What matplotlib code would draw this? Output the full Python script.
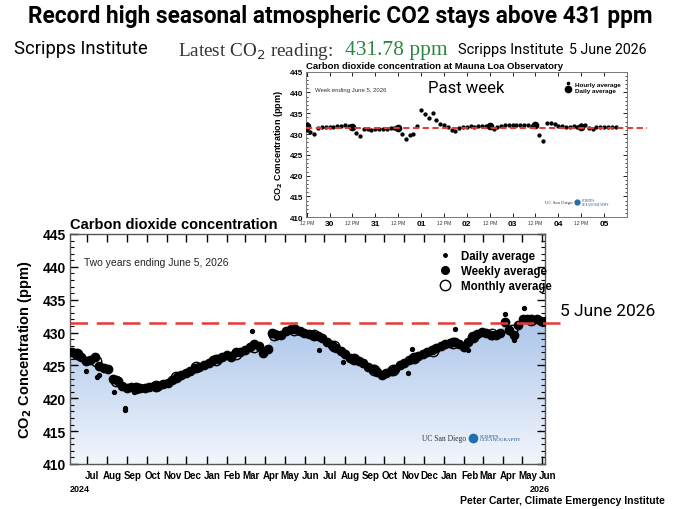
import matplotlib
matplotlib.use('Agg')
import matplotlib.pyplot as plt
import numpy as np
import pandas as pd
import matplotlib.dates as mdates
import matplotlib.transforms as mtransforms
from matplotlib.lines import Line2D
from matplotlib.colors import LinearSegmentedColormap

# ---------------- data: two-year chart ----------------
weekly_start = '2024-06-08'
weekly_ppm = [
    427.0, 426.8, 426.3, 425.6, 425.9, 426.3, 424.9, 424.6, 424.4, 423.0,
    422.6, 421.9, 421.6, 421.7, 421.5, 421.6, 421.5, 421.7, 421.9, 421.8,
    422.2, 422.4, 422.8, 423.2, 423.5, 423.9, 424.1, 424.6, 424.8, 425.1,
    425.4, 425.8, 426.0, 426.3, 426.6, 426.3, 427.0, 427.1, 427.3, 427.8,
    428.3, 428.0, 426.9, 427.5, 430.0, 429.7, 429.6, 430.3, 430.6, 430.5,
    430.3, 430.0, 429.8, 429.6, 429.5, 429.1, 428.6, 428.1, 427.7, 427.2,
    426.7, 426.2, 426.0, 425.6, 425.3, 424.8, 424.4, 424.0, 423.6, 423.8,
    424.2, 424.5, 425.0, 425.4, 425.8, 426.2, 426.5, 426.8, 427.0, 427.4,
    427.7, 428.0, 428.3, 428.4, 428.6, 428.2, 427.8, 428.6, 429.4, 429.8,
    430.1, 430.0, 429.6, 429.7, 430.0, 431.6, 430.4, 429.6, 431.2, 432.0,
    432.1, 431.9, 432.0, 431.8, 431.7]
monthly_start = '2024-06-01'
monthly_ppm = [
    426.8, 425.6, 422.6, 421.6, 421.9, 423.3, 424.7, 425.9, 426.8, 427.8,
    429.6, 430.4, 429.6, 428.0, 426.0, 424.3, 424.3, 426.2, 427.2, 428.4,
    429.3, 429.8, 430.4, 431.9]
daily_dates = ['2024-06-30', '2024-07-16', '2024-07-19', '2024-08-11', '2024-08-28',
               '2024-08-29', '2024-09-11', '2025-03-11', '2025-06-22', '2025-07-30',
               '2025-11-07', '2025-11-12', '2026-01-17', '2026-02-07', '2026-04-04',
               '2026-04-19', '2026-05-04']
daily_ppm = [424.2, 423.3, 423.6, 421.0, 418.2, 418.5, 420.9, 430.2, 427.4, 425.5,
             423.9, 427.5, 430.5, 427.3, 432.9, 428.9, 433.7]
latest_level = 431.4

# ---------------- data: past week inset ----------------
hourly_start = '2026-05-29 12:00'
hourly_ppm = [
    431.0, 430.4, 430.0, 431.5, 431.6, 431.6, 431.7, 431.8, 431.9, 432.0,
    432.1, 431.9, 431.7, 430.2, 429.5, 431.3, 431.2, 431.1, 431.2, 431.2,
    431.3, 431.3, 431.4, 431.5, 431.3, 430.0, 428.8, 429.8, 430.0, 432.0,
    435.8, 434.9, 433.8, 435.0, 433.3, 432.5, 432.2, 431.8, 430.9, 430.8,
    431.5, 431.7, 431.8, 431.9, 431.8, 431.9, 432.0, 431.9, 431.8, 431.3,
    431.6, 432.0, 432.2, 432.3, 432.2, 432.2, 432.1, 432.2, 432.3, 432.0,
    431.9, 429.8, 428.4, 432.6, 432.7, 432.5, 432.0, 431.9, 431.8, 431.8,
    431.9, 431.8, 432.1, 432.2, 431.4, 431.3, 431.6, 431.6, 431.7, 431.7,
    431.8, 431.7]
daily_avg_times = ['2026-05-29 12:00', '2026-05-30 12:00', '2026-05-31 12:00',
                   '2026-06-02 12:00', '2026-06-03 12:00', '2026-06-04 12:00']
daily_avg_ppm = [432.0, 431.6, 431.4, 432.0, 432.2, 431.8]
inset_day_labels = ['30', '31', '01', '02', '03', '04', '05']

# ---------------- figure ----------------
W, H = 680, 510
fig = plt.figure(figsize=(6.8, 5.1), dpi=100)
sans = 'Liberation Sans'
head = 'Roboto'

def fx(px):
    return px / W

def fy(py):
    return 1 - py / H

fig.text(fx(340), fy(17), 'Record high seasonal atmospheric CO2 stays above 431 ppm',
         ha='center', va='center', fontsize=16.3, fontweight='bold', family=head)
fig.text(fx(14), fy(49), 'Scripps Institute', ha='left', va='center', fontsize=13.3, family=head)
fig.text(fx(178), fy(51), 'Latest CO$_2$ reading:', ha='left', va='center', fontsize=13.8,
         family='Liberation Serif', color='#333333')
fig.text(fx(345), fy(51), '431.78 ppm', ha='left', va='center', fontsize=15.5,
         family='Liberation Serif', color='#2e8540')
fig.text(fx(458), fy(50), 'Scripps Institute', ha='left', va='center', fontsize=10.5, family=head)
fig.text(fx(569), fy(50), '5 June 2026', ha='left', va='center', fontsize=10.2, family=head)

# ---------------- main chart ----------------
ax = fig.add_axes([fx(70), fy(465), fx(545) - fx(70), fy(235) - fy(465)])
wdates = pd.date_range(weekly_start, periods=len(weekly_ppm), freq='7D')
mdates_list = pd.date_range(monthly_start, periods=len(monthly_ppm), freq='MS') + pd.Timedelta(days=14)
ddates = pd.to_datetime(daily_dates)

x0 = pd.Timestamp('2024-06-05')
x1 = pd.Timestamp('2026-06-05')
ax.set_xlim(x0, x1)
ax.set_ylim(410, 445)

wnum = mdates.date2num(wdates)
fill_x = np.concatenate([[mdates.date2num(x0)], wnum])
fill_y = np.concatenate([[weekly_ppm[0]], weekly_ppm])
poly = ax.fill_between(fill_x, fill_y, 410, color='none', lw=0)
cmap = LinearSegmentedColormap.from_list('g', ['#f2f6fc', '#9fbce6'])
grad = np.linspace(0, 1, 256).reshape(-1, 1)
im = ax.imshow(grad, extent=[mdates.date2num(x0), mdates.date2num(x1), 410, 436],
               aspect='auto', cmap=cmap, origin='lower', zorder=1)
im.set_clip_path(poly.get_paths()[0], transform=ax.transData)

ax.plot(wdates, weekly_ppm, 'o', color='black', ms=6.0, zorder=3)
ax.plot(mdates_list, monthly_ppm, 'o', mfc='none', mec='black', ms=7.5, mew=1.0, zorder=4)
ax.plot(ddates, daily_ppm, 'o', color='black', ms=2.8, zorder=3)

blend = mtransforms.blended_transform_factory(ax.transAxes, ax.transData)
ax.plot([0, 1.042], [latest_level, latest_level], transform=blend, clip_on=False,
        color='#e53935', lw=1.8, dashes=(7, 3.5), zorder=5)

ax.xaxis.set_major_locator(mdates.MonthLocator())
ax.xaxis.set_major_formatter(mdates.DateFormatter('%b'))
ax.set_yticks(np.arange(410, 446, 5))
ax.yaxis.set_minor_locator(plt.MultipleLocator(1))
ax.tick_params(axis='both', which='both', direction='in', top=True, right=True)
ax.tick_params(axis='both', which='major', length=6, width=1)
ax.tick_params(axis='y', which='minor', length=3, width=0.8)
ax.tick_params(axis='y', labelsize=10, pad=3)
ax.tick_params(axis='x', labelsize=7, pad=4)
for lab in ax.get_yticklabels():
    lab.set_fontweight('bold'); lab.set_family(sans)
off = mtransforms.ScaledTranslation(4 / 72, 0, fig.dpi_scale_trans)
for lab in ax.get_xticklabels():
    lab.set_fontweight('bold'); lab.set_family(sans)
    lab.set_transform(lab.get_transform() + off)
for sp in ax.spines.values():
    sp.set_color('#555555'); sp.set_linewidth(1)

ax.set_ylabel('CO$_\\mathbf{2}$ Concentration (ppm)', fontsize=10.5, fontweight='bold',
              family=sans, labelpad=6)
ax.text(0, 1.012, 'Carbon dioxide concentration', transform=ax.transAxes, ha='left',
        va='bottom', fontsize=10.5, fontweight='bold', family=sans)
ax.text(0.03, 0.878, 'Two years ending June 5, 2026', transform=ax.transAxes, ha='left',
        va='center', fontsize=7.5, family=sans, color='#222222')
ax.text(0.0, -0.108, '2024', transform=ax.transAxes, ha='left', va='center', fontsize=6.5,
        fontweight='bold', family=sans)
ax.text(0.99, -0.105, '2026', transform=ax.transAxes, ha='center', va='center', fontsize=6.5,
        fontweight='bold', family=sans)

handles = [Line2D([], [], ls='none', marker='o', color='black', ms=2.5),
           Line2D([], [], ls='none', marker='o', color='black', ms=5.5),
           Line2D([], [], ls='none', marker='o', mfc='none', mec='black', ms=7.5)]
leg = ax.legend(handles, ['Daily average', 'Weekly average', 'Monthly average'],
                loc='upper left', bbox_to_anchor=(0.755, 0.975), frameon=False,
                handlelength=1.0, handletextpad=0.9, labelspacing=0.25,
                prop={'family': sans, 'weight': 'bold', 'size': 8.3})

ax.text(0.74, 0.115, 'UC San Diego', transform=ax.transAxes, ha='left', va='center',
        fontsize=5.5, family='Liberation Serif', color='#333333')
ax.plot([0.848], [0.115], 'o', transform=ax.transAxes, color='#1f6fb2', ms=6, clip_on=False)
ax.text(0.862, 0.115, 'SCRIPPS\nOCEANOGRAPHY', transform=ax.transAxes, ha='left', va='center',
        fontsize=3.6, family='Liberation Serif', color='#1f4f86', linespacing=0.9)

fig.text(fx(560), fy(311), '5 June 2026', ha='left', va='center', fontsize=12.5, family=head)
fig.text(fx(665), fy(501), 'Peter Carter, Climate Emergency Institute', ha='right', va='center',
         fontsize=7.5, fontweight='bold', family=sans)

# ---------------- inset chart ----------------
ax2 = fig.add_axes([fx(305.7), fy(218.3), fx(627) - fx(305.7), fy(72.7) - fy(218.3)])
ax2.set_facecolor('white')
htimes = pd.date_range(hourly_start, periods=len(hourly_ppm), freq='2h')
dtimes = pd.to_datetime(daily_avg_times)
ax2.set_xlim(pd.Timestamp('2026-05-29 11:30'), pd.Timestamp('2026-06-05 12:00'))
ax2.set_ylim(410, 445)
ax2.plot(htimes, hourly_ppm, 'o', color='black', ms=2.1, zorder=3)
ax2.plot(dtimes, daily_avg_ppm, 'o', color='black', ms=4.5, zorder=4)
blend2 = mtransforms.blended_transform_factory(ax2.transAxes, ax2.transData)
ax2.plot([0, 1.062], [latest_level, latest_level], transform=blend2, clip_on=False,
         color='#e53935', lw=1.4, dashes=(3.2, 1.8), zorder=5)

ticks = pd.date_range('2026-05-29 12:00', '2026-06-05 12:00', freq='12h')
ax2.set_xticks(ticks)
labels = []
di = 0
for i, t in enumerate(ticks):
    if i == len(ticks) - 1:
        labels.append('')
    elif t.hour == 12:
        labels.append('12 PM')
    else:
        labels.append(inset_day_labels[di]); di += 1
ax2.set_xticklabels(labels)
for lab, t in zip(ax2.get_xticklabels(), ticks):
    lab.set_family(sans)
    if t.hour == 12:
        lab.set_fontsize(3.6); lab.set_color('#333333')
    else:
        lab.set_fontsize(6); lab.set_fontweight('bold')
ax2.set_yticks(np.arange(410, 446, 5))
ax2.yaxis.set_minor_locator(plt.MultipleLocator(1))
ax2.tick_params(axis='both', which='both', direction='in', top=True, right=True)
ax2.tick_params(axis='both', which='major', length=3, width=0.6, pad=2)
ax2.tick_params(axis='y', which='minor', length=1.5, width=0.5)
ax2.tick_params(axis='y', labelsize=5.8)
for lab in ax2.get_yticklabels():
    lab.set_fontweight('bold'); lab.set_family(sans)
for sp in ax2.spines.values():
    sp.set_color('#777777'); sp.set_linewidth(0.7)
ax2.set_ylabel('CO$_\\mathbf{2}$ Concentration (ppm)', fontsize=6.5, fontweight='bold',
               family=sans, labelpad=3)
ax2.text(0.0, 1.015, 'Carbon dioxide concentration at Mauna Loa Observatory',
         transform=ax2.transAxes, ha='left', va='bottom', fontsize=6.8, fontweight='bold',
         family=sans)
ax2.text(0.03, 0.88, 'Week ending June 5, 2026', transform=ax2.transAxes, ha='left',
         va='center', fontsize=4.3, family=sans, color='#333333')
ax2.text(0.5, 0.89, 'Past week', transform=ax2.transAxes, ha='center', va='center',
         fontsize=12, family=head)
h2 = [Line2D([], [], ls='none', marker='o', color='black', ms=1.6),
      Line2D([], [], ls='none', marker='o', color='black', ms=4.5)]
ax2.legend(h2, ['Hourly average', 'Daily average'], loc='upper left',
           bbox_to_anchor=(0.79, 0.975), frameon=False, handlelength=0.8,
           handletextpad=0.8, labelspacing=0.1,
           prop={'family': sans, 'weight': 'bold', 'size': 4.6})
ax2.text(0.745, 0.105, 'UC San Diego', transform=ax2.transAxes, ha='left', va='center',
         fontsize=3.4, family='Liberation Serif', color='#333333')
ax2.plot([0.845], [0.105], 'o', transform=ax2.transAxes, color='#1f6fb2', ms=3.5, clip_on=False)
ax2.text(0.858, 0.105, 'SCRIPPS\nOCEANOGRAPHY', transform=ax2.transAxes, ha='left',
         va='center', fontsize=2.4, family='Liberation Serif', color='#1f4f86', linespacing=0.9)

fig.savefig('out.png', dpi=100)
